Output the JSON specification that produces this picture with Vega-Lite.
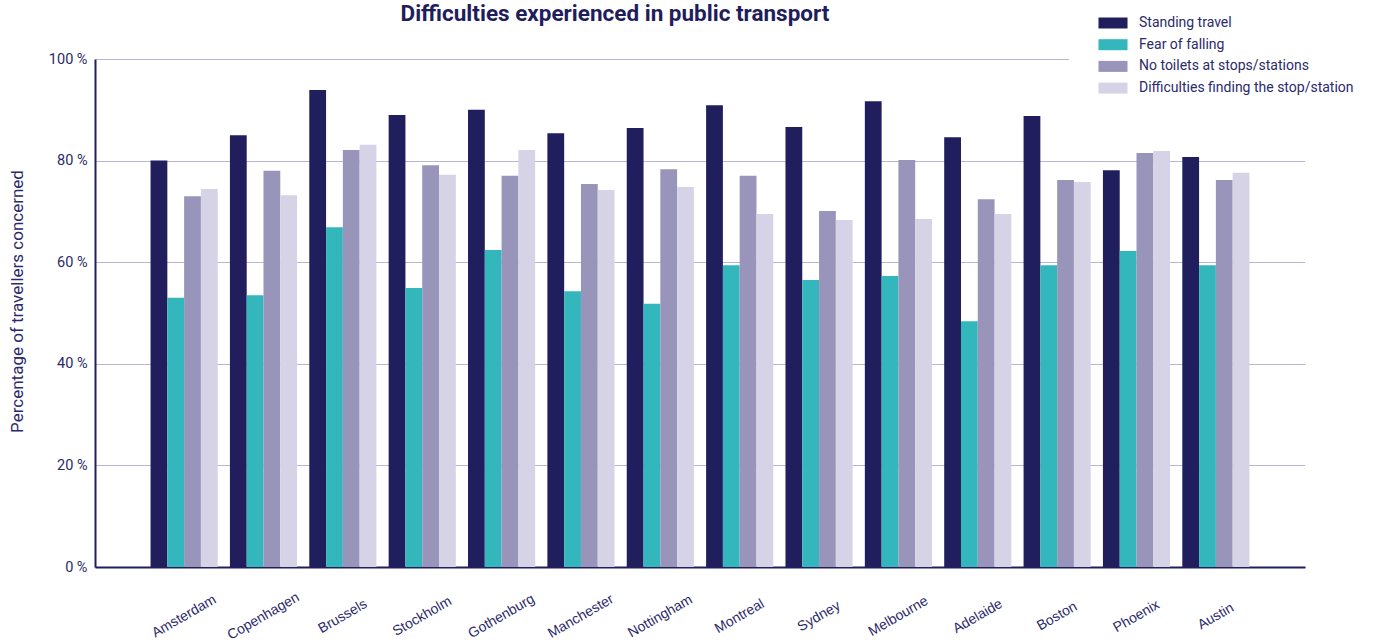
{
  "$schema": "https://vega.github.io/schema/vega-lite/v6.json",
  "width": 1210,
  "height": 508,
  "autosize": {"type": "none"},
  "padding": {"left": 95, "top": 59, "right": 70, "bottom": 76},
  "background": "#ffffff",
  "title": {
    "text": "Difficulties experienced in public transport",
    "font": "Roboto",
    "fontSize": 22.5,
    "fontWeight": "bold",
    "color": "#1f1d5c",
    "anchor": "middle",
    "dx": -85,
    "offset": 0,
    "dy": 46
  },
  "config": {
    "view": {"stroke": null},
    "font": "Roboto"
  },
  "data": {
    "values": [
      {"city": "Amsterdam", "series": "Standing travel", "value": 80.0},
      {"city": "Amsterdam", "series": "Fear of falling", "value": 53.0},
      {"city": "Amsterdam", "series": "No toilets at stops/stations", "value": 73.0},
      {"city": "Amsterdam", "series": "Difficulties finding the stop/station", "value": 74.4},
      {"city": "Copenhagen", "series": "Standing travel", "value": 85.0},
      {"city": "Copenhagen", "series": "Fear of falling", "value": 53.5},
      {"city": "Copenhagen", "series": "No toilets at stops/stations", "value": 78.0},
      {"city": "Copenhagen", "series": "Difficulties finding the stop/station", "value": 73.2},
      {"city": "Brussels", "series": "Standing travel", "value": 93.9},
      {"city": "Brussels", "series": "Fear of falling", "value": 66.9},
      {"city": "Brussels", "series": "No toilets at stops/stations", "value": 82.1},
      {"city": "Brussels", "series": "Difficulties finding the stop/station", "value": 83.1},
      {"city": "Stockholm", "series": "Standing travel", "value": 89.0},
      {"city": "Stockholm", "series": "Fear of falling", "value": 54.9},
      {"city": "Stockholm", "series": "No toilets at stops/stations", "value": 79.1},
      {"city": "Stockholm", "series": "Difficulties finding the stop/station", "value": 77.2},
      {"city": "Gothenburg", "series": "Standing travel", "value": 90.0},
      {"city": "Gothenburg", "series": "Fear of falling", "value": 62.4},
      {"city": "Gothenburg", "series": "No toilets at stops/stations", "value": 77.0},
      {"city": "Gothenburg", "series": "Difficulties finding the stop/station", "value": 82.1},
      {"city": "Manchester", "series": "Standing travel", "value": 85.4},
      {"city": "Manchester", "series": "Fear of falling", "value": 54.3},
      {"city": "Manchester", "series": "No toilets at stops/stations", "value": 75.4},
      {"city": "Manchester", "series": "Difficulties finding the stop/station", "value": 74.2},
      {"city": "Nottingham", "series": "Standing travel", "value": 86.4},
      {"city": "Nottingham", "series": "Fear of falling", "value": 51.8},
      {"city": "Nottingham", "series": "No toilets at stops/stations", "value": 78.3},
      {"city": "Nottingham", "series": "Difficulties finding the stop/station", "value": 74.8},
      {"city": "Montreal", "series": "Standing travel", "value": 90.9},
      {"city": "Montreal", "series": "Fear of falling", "value": 59.4},
      {"city": "Montreal", "series": "No toilets at stops/stations", "value": 77.0},
      {"city": "Montreal", "series": "Difficulties finding the stop/station", "value": 69.5},
      {"city": "Sydney", "series": "Standing travel", "value": 86.6},
      {"city": "Sydney", "series": "Fear of falling", "value": 56.5},
      {"city": "Sydney", "series": "No toilets at stops/stations", "value": 70.1},
      {"city": "Sydney", "series": "Difficulties finding the stop/station", "value": 68.3},
      {"city": "Melbourne", "series": "Standing travel", "value": 91.7},
      {"city": "Melbourne", "series": "Fear of falling", "value": 57.3},
      {"city": "Melbourne", "series": "No toilets at stops/stations", "value": 80.1},
      {"city": "Melbourne", "series": "Difficulties finding the stop/station", "value": 68.5},
      {"city": "Adelaide", "series": "Standing travel", "value": 84.6},
      {"city": "Adelaide", "series": "Fear of falling", "value": 48.4},
      {"city": "Adelaide", "series": "No toilets at stops/stations", "value": 72.4},
      {"city": "Adelaide", "series": "Difficulties finding the stop/station", "value": 69.5},
      {"city": "Boston", "series": "Standing travel", "value": 88.8},
      {"city": "Boston", "series": "Fear of falling", "value": 59.4},
      {"city": "Boston", "series": "No toilets at stops/stations", "value": 76.2},
      {"city": "Boston", "series": "Difficulties finding the stop/station", "value": 75.8},
      {"city": "Phoenix", "series": "Standing travel", "value": 78.1},
      {"city": "Phoenix", "series": "Fear of falling", "value": 62.2},
      {"city": "Phoenix", "series": "No toilets at stops/stations", "value": 81.5},
      {"city": "Phoenix", "series": "Difficulties finding the stop/station", "value": 81.9},
      {"city": "Austin", "series": "Standing travel", "value": 80.7},
      {"city": "Austin", "series": "Fear of falling", "value": 59.4},
      {"city": "Austin", "series": "No toilets at stops/stations", "value": 76.2},
      {"city": "Austin", "series": "Difficulties finding the stop/station", "value": 77.6}
    ]
  },
  "mark": {"type": "bar"},
  "encoding": {
    "x": {
      "field": "city",
      "type": "nominal",
      "sort": null,
      "scale": {"paddingInner": 0.154, "paddingOuter": 0.7},
      "axis": {
        "title": null,
        "labelAngle": -30,
        "labelAlign": "center",
        "labelBaseline": "middle",
        "labelPadding": 49,
        "labelFontSize": 14,
        "labelColor": "#2b2a6b",
        "labelFont": "Liberation Sans",
        "ticks": false,
        "domainColor": "#201e5c",
        "domainWidth": 2,
        "grid": false
      }
    },
    "xOffset": {
      "field": "series",
      "type": "nominal",
      "sort": ["Standing travel", "Fear of falling", "No toilets at stops/stations", "Difficulties finding the stop/station"],
      "scale": {"paddingInner": 0, "paddingOuter": 0}
    },
    "y": {
      "field": "value",
      "type": "quantitative",
      "scale": {"domain": [0, 100], "nice": false},
      "axis": {
        "title": "Percentage of travellers concerned",
        "titleFont": "Roboto",
        "titleFontSize": 17,
        "titleFontWeight": "normal",
        "titleColor": "#2b2a6b",
        "titleX": -78,
        "titleY": 242,
        "titleAlign": "center",
        "titleBaseline": "middle",
        "titleAngle": -90,
        "values": [0, 20, 40, 60, 80, 100],
        "labelExpr": "datum.value + ' %'",
        "labelFontSize": 14.5,
        "labelColor": "#2b2a6b",
        "labelFont": "Roboto",
        "labelPadding": 8,
        "ticks": false,
        "domainColor": "#201e5c",
        "domainWidth": 2,
        "gridColor": "#b9b5d3",
        "gridWidth": 1
      }
    },
    "color": {
      "field": "series",
      "type": "nominal",
      "scale": {
        "domain": ["Standing travel", "Fear of falling", "No toilets at stops/stations", "Difficulties finding the stop/station"],
        "range": ["#201e5c", "#33b7bc", "#9894ba", "#d6d3e6"]
      },
      "legend": {
        "title": null,
        "orient": "none",
        "legendX": 974,
        "legendY": -80,
        "padding": 37,
        "fillColor": "#ffffff",
        "symbolType": "M-2.64,-1H2.64V1H-2.64Z",
        "symbolSize": 121,
        "symbolStrokeWidth": 0,
        "symbolOpacity": 1,
        "labelOffset": 19,
        "labelFontSize": 14,
        "labelFont": "Roboto",
        "labelColor": "#2b2a6b",
        "rowPadding": 7.7,
        "labelLimit": 300
      }
    }
  }
}
